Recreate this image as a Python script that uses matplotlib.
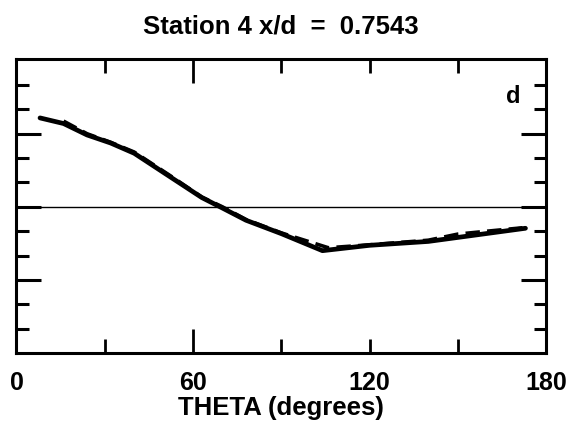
import matplotlib.pyplot as plt
from matplotlib.ticker import FixedLocator, FixedFormatter

# values
theta_solid = [8, 16, 24, 32, 40, 52, 63, 70, 78, 90, 104, 120, 140, 173]
cp_solid = [3.65, 3.42, 2.95, 2.62, 2.2, 1.25, 0.38, -0.05, -0.55, -1.1, -1.8, -1.58, -1.42, -0.88]

theta_dash = [16, 24, 32, 40, 52, 63, 70, 78, 90, 106, 120, 140, 150, 160, 172]
cp_dash = [3.52, 3.0, 2.65, 2.25, 1.3, 0.4, 0.0, -0.52, -1.07, -1.68, -1.56, -1.37, -1.12, -1.0, -0.86]

xlabels_major = ["60"]
xticks_major = [60]
xticks_minor = [0, 30, 90, 120, 150, 180]
xlabels_minor = ["0", "", "", "120", "", "180"]

plt.rcParams['font.family'] = ['Liberation Sans', 'DejaVu Sans']
plt.rcParams['font.weight'] = 'bold'

fig = plt.figure(figsize=(5.74, 4.33), dpi=100)
ax = fig.add_axes([0.0287, 0.1848, 0.9226, 0.679])

ax.plot(theta_solid, cp_solid, color='black', lw=3.4, solid_capstyle='round')
ax.plot(theta_dash, cp_dash, color='black', lw=2.6, dashes=(4, 2))
ax.axhline(0, color='black', lw=1.0)

ax.set_xlim(0, 180)
ax.set_ylim(-6.0, 6.07)

ax.xaxis.set_major_locator(FixedLocator(xticks_major))
ax.xaxis.set_major_formatter(FixedFormatter(xlabels_major))
ax.xaxis.set_minor_locator(FixedLocator(xticks_minor))
ax.xaxis.set_minor_formatter(FixedFormatter(xlabels_minor))

ax.yaxis.set_major_locator(FixedLocator([-3, 0, 3]))
ax.yaxis.set_minor_locator(FixedLocator([-5, -4, -2, -1, 1, 2, 4, 5]))
ax.yaxis.set_major_formatter(FixedFormatter([]))

ax.tick_params(axis='x', which='both', direction='in', top=True, bottom=True,
               width=2, labelsize=18, pad=13)
ax.tick_params(axis='x', which='major', length=17)
ax.tick_params(axis='x', which='minor', length=10)
ax.tick_params(axis='y', which='both', direction='in', left=True, right=True,
               width=2.2, labelleft=False)
ax.tick_params(axis='y', which='major', length=18)
ax.tick_params(axis='y', which='minor', length=9)

for sp in ax.spines.values():
    sp.set_linewidth(2.2)

ax.set_xlabel("THETA (degrees)", fontsize=18.5, fontweight='bold', labelpad=1)
ax.set_title("Station 4 x/d  =  0.7543", fontsize=18.5, fontweight='bold', pad=18)
ax.text(0.938, 0.872, "d", transform=ax.transAxes, fontsize=17,
        fontweight='bold', ha='center', va='center')

fig.savefig("out.png", dpi=100)
